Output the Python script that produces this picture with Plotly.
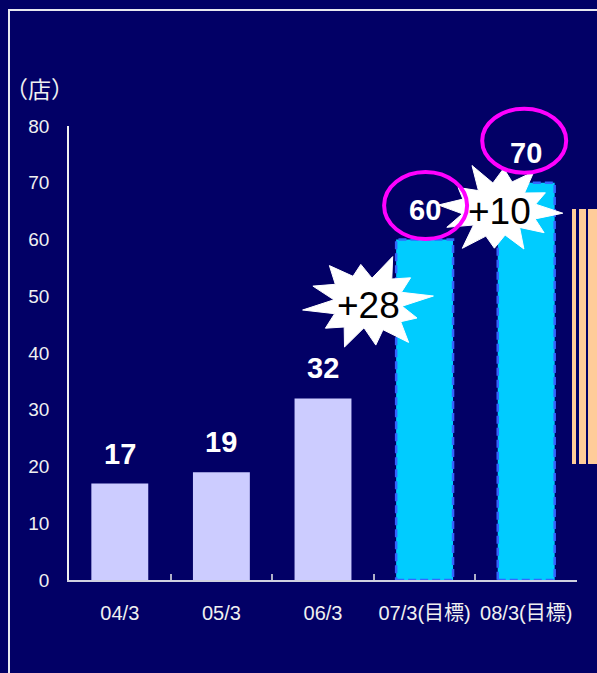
import math
import plotly.graph_objects as go

# ---------------- data ----------------
categories = ["04/3", "05/3", "06/3", "07/3(目標)", "08/3(目標)"]
values = [17, 19, 32, 60, 70]
is_target = [False, False, False, True, True]
y_tick_vals = [0, 10, 20, 30, 40, 50, 60, 70, 80]
increase_labels = ["+28", "+10"]
unit_label = "（店）"

# ---------------- layout constants ----------------
W, H = 597, 673
ML, MR, MT, MB = 69, 20, 126, 93
PW = W - ML - MR
PH = H - MT - MB
BG = "#020066"
FONT = "Liberation Sans, Arial, Noto Sans CJK JP, sans-serif"
BAR_W = 0.56
Y_MAX = 80


def px_to_paper(px, py):
    return (px - ML) / PW, (H - MB - py) / PH


def data_to_paper(idx, val):
    return (idx + 0.5) / len(categories), val / Y_MAX


colors = ["#00CCFF" if t else "#CCCCFF" for t in is_target]

fig = go.Figure()
fig.add_trace(go.Bar(
    x=categories, y=values, width=BAR_W,
    marker=dict(color=colors, line=dict(width=0)),
    hoverinfo="skip",
))

shapes = []
annotations = []

# outer frame
fx0, fy1 = px_to_paper(9, 10)
fx1, fy0 = px_to_paper(640, 720)
shapes.append(dict(type="rect", xref="paper", yref="paper", x0=fx0, x1=fx1, y0=fy0, y1=fy1,
                   line=dict(color="#e8e8f0", width=2), fillcolor="rgba(0,0,0,0)", layer="below"))

# orange striped block at right edge (cut off)
stripes = [(572, 576), (579, 586), (588, 640)]
for sx0, sx1 in stripes:
    a0, b1 = px_to_paper(sx0, 209)
    a1, b0 = px_to_paper(sx1, 464)
    shapes.append(dict(type="rect", xref="paper", yref="paper", x0=a0, x1=a1, y0=b0, y1=b1,
                       line=dict(width=0), fillcolor="#FFCC99", layer="above"))

# dashed outlines of target bars
for i, (v, t) in enumerate(zip(values, is_target)):
    if t:
        shapes.append(dict(type="rect", xref="x", yref="y", x0=i - BAR_W / 2, x1=i + BAR_W / 2,
                           y0=0, y1=v, line=dict(color="#3366FF", width=2.5, dash="8px,4px"),
                           fillcolor="rgba(0,0,0,0)", layer="above"))


def star_path(rx, ry, mults, inner, start):
    n = len(mults)
    pts = []
    for k in range(2 * n):
        ang = math.radians(start) + k * math.pi / n
        if k % 2 == 0:
            r = mults[k // 2]
        else:
            r = inner[(k // 2) % len(inner)]
        pts.append((rx * r * math.cos(ang), ry * r * math.sin(ang)))
    return "M " + " L ".join(f"{x:.1f},{y:.1f}" for x, y in pts) + " Z"


bursts = [
    dict(center=(368, 303), rx=66, ry=50, start=8,
         mults=[1.0, 0.82, 1.0, 0.78, 0.95, 0.9, 1.0, 0.82, 0.95, 0.85, 1.0, 0.8],
         inner=[0.55, 0.6, 0.5, 0.58, 0.62, 0.52]),
    dict(center=(499, 209), rx=64, ry=48, start=-5,
         mults=[1.0, 0.8, 0.95, 0.85, 1.0, 0.78, 0.95, 0.9, 1.0, 0.82, 0.92, 0.86],
         inner=[0.58, 0.52, 0.6, 0.55, 0.5, 0.6]),
]
for b, lab in zip(bursts, increase_labels):
    ax, ay = px_to_paper(*b["center"])
    shapes.append(dict(type="path", xref="paper", yref="paper", xsizemode="pixel", ysizemode="pixel",
                       xanchor=ax, yanchor=ay,
                       path=star_path(b["rx"], b["ry"], b["mults"], b["inner"], b["start"]),
                       fillcolor="white", line=dict(color="white", width=1), layer="above"))
    annotations.append(dict(x=ax, y=ay, xref="paper", yref="paper", text=lab, showarrow=False,
                            font=dict(family=FONT, size=37, color="black"),
                            xanchor="center", yanchor="middle", yshift=-2))

# magenta ellipses around target values (anchored at bar tops)
ellipse_specs = [(3, 1, 34, 41.5, 33.5), (4, -2, 42, 42, 32)]
for idx, dx, dy, rx, ry in ellipse_specs:
    ax, ay = data_to_paper(idx, values[idx])
    shapes.append(dict(type="circle", xref="paper", yref="paper", xsizemode="pixel", ysizemode="pixel",
                       xanchor=ax, yanchor=ay,
                       x0=dx - rx, x1=dx + rx, y0=dy - ry, y1=dy + ry,
                       line=dict(color="#FF00FF", width=4), fillcolor="rgba(0,0,0,0)", layer="above"))

# value labels
for c, v in zip(categories, values):
    annotations.append(dict(x=c, y=v, xref="x", yref="y", text=f"<b>{v}</b>", showarrow=False,
                            font=dict(family=FONT, size=29, color="white"),
                            xanchor="center", yanchor="middle", yshift=30))

# unit label
ux, uy = px_to_paper(3, 88)
annotations.append(dict(x=ux, y=uy, xref="paper", yref="paper", text=unit_label, showarrow=False,
                        font=dict(family="Noto Sans CJK JP, sans-serif", size=23, color="#f0f0f0"),
                        xanchor="left", yanchor="middle"))

fig.update_layout(
    width=W, height=H,
    margin=dict(l=ML, r=MR, t=MT, b=MB, autoexpand=False),
    paper_bgcolor=BG, plot_bgcolor=BG,
    showlegend=False,
    shapes=shapes,
    annotations=annotations,
    xaxis=dict(
        type="category", showgrid=False, showline=True, linecolor="#d0d0e0", linewidth=1.5,
        ticks="inside", tickson="boundaries", ticklen=6, tickcolor="#b0b0c8", tickwidth=1.5,
        tickfont=dict(family=FONT, size=20, color="#f0f0f0"), ticklabelstandoff=14,
        tickangle=0, automargin=False,
        range=[-0.5, 4.5], fixedrange=True,
    ),
    yaxis=dict(
        range=[0, Y_MAX], tickvals=y_tick_vals, showgrid=False, zeroline=False,
        showline=True, linecolor="#f0f0f0", linewidth=1.5, ticks="",
        tickfont=dict(family=FONT, size=19, color="#f0f0f0"), ticklabelstandoff=14,
        automargin=False, fixedrange=True,
    ),
)

fig.write_html("out.html", config={"displayModeBar": False})
